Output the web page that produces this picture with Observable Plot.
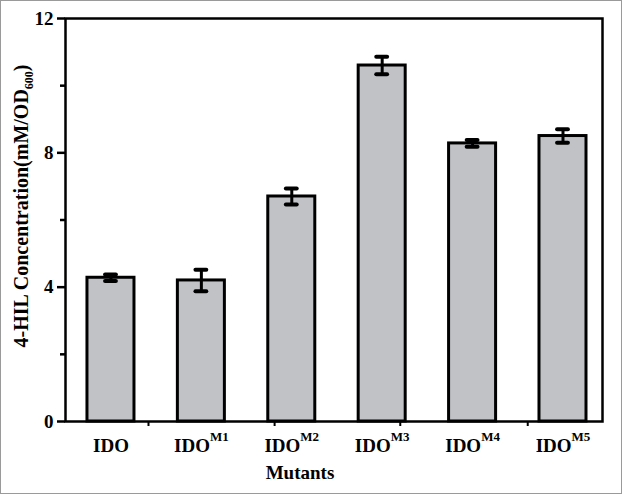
<!DOCTYPE html>
<html><head><meta charset="utf-8">
<script src="https://cdn.jsdelivr.net/npm/d3@7"></script>
<script src="https://cdn.jsdelivr.net/npm/@observablehq/plot@0.6"></script>
<style>
body{margin:0;background:#fff;}
#chart svg{display:block; outline:1px solid #9a9a9a; outline-offset:-1px;}
</style></head><body><div id="chart"></div>
<script>
const mutants = ["IDO","IDO","IDO","IDO","IDO","IDO"];
const superscripts = ["","M1","M2","M3","M4","M5"];
const concentration = [4.28, 4.2, 6.7, 10.6, 8.28, 8.5];
const errors = [0.1, 0.32, 0.24, 0.26, 0.1, 0.2];
const yTicks = [0, 4, 8, 12];
const yMinorTicks = [2, 6, 10];
const xMinorTicks = [0.415, 1.81, 3.2, 4.61];
const yLabelParts = ["4-HIL Concentration(mM/OD", "600", ")"];
const xLabel = "Mutants";

const data = concentration.map((v, i) => ({i, v, e: errors[i]}));
const half = 0.26, cap = 0.06;

const plot = Plot.plot({
  width: 622, height: 494,
  marginLeft: 65, marginRight: 20, marginTop: 18, marginBottom: 73,
  style: {fontFamily: "'Liberation Serif','Times New Roman',serif", fontWeight: "bold", fontSize: "19px", color: "#000", background: "#fff", overflow: "visible"},
  x: {type: "linear", domain: [-0.503, 5.437]},
  y: {domain: [0, 12]},
  marks: [
    Plot.rectY(data, {x1: d => d.i - half, x2: d => d.i + half, y1: 0, y2: "v", fill: "#c1c2c6", stroke: "#000", strokeWidth: 3}),
    Plot.ruleX(data, {x: "i", y1: d => d.v - d.e, y2: d => d.v + d.e, stroke: "#000", strokeWidth: 3}),
    Plot.ruleY(data, {y: d => d.v + d.e, x1: d => d.i - cap, x2: d => d.i + cap, stroke: "#000", strokeWidth: 4, strokeLinecap: "round"}),
    Plot.ruleY(data, {y: d => d.v - d.e, x1: d => d.i - cap, x2: d => d.i + cap, stroke: "#000", strokeWidth: 4, strokeLinecap: "round"}),
    Plot.axisY({ticks: yTicks, tickSize: 8, tickPadding: 4, strokeWidth: 2.5, label: null}),
    Plot.axisY({ticks: yMinorTicks, tickSize: 5, tickFormat: () => "", strokeWidth: 2.5, label: null}),
    Plot.axisX({ticks: xMinorTicks, tickSize: 5, tickFormat: () => "", strokeWidth: 2, label: null}),
    Plot.axisX({ticks: d3.range(mutants.length), tickSize: 0, tickPadding: 17, tickFormat: i => mutants[i] + "|" + superscripts[i], label: null}),
    Plot.frame({stroke: "#000", strokeWidth: 2.5})
  ]
});
document.getElementById("chart").appendChild(plot);

const svg = d3.select(plot);
svg.selectAll('g[aria-label$="tick label"]').attr("font-size", 19).attr("font-weight", "bold");
svg.selectAll('g[aria-label$="tick label"] text').attr("font-size", null);
svg.selectAll('g[aria-label="x-axis tick label"] text').each(function() {
  const t = d3.select(this);
  const [a, b] = t.text().split("|");
  t.text(a);
  if (b) t.append("tspan").attr("font-size", 13).attr("dy", -11).text(b);
});

const yl = svg.append("text")
  .attr("transform", "translate(28,206) rotate(-90)")
  .attr("text-anchor", "middle")
  .attr("font-size", 20)
  .attr("font-weight", "bold")
  .attr("fill", "#000");
yl.append("tspan").text(yLabelParts[0]);
yl.append("tspan").attr("font-size", 12).attr("dy", 5).text(yLabelParts[1]);
yl.append("tspan").attr("dy", -5).text(yLabelParts[2]);

svg.append("text")
  .attr("x", 300).attr("y", 479)
  .attr("text-anchor", "middle")
  .attr("font-size", 19)
  .attr("font-weight", "bold")
  .attr("fill", "#000")
  .text(xLabel);
</script>
</body></html>
